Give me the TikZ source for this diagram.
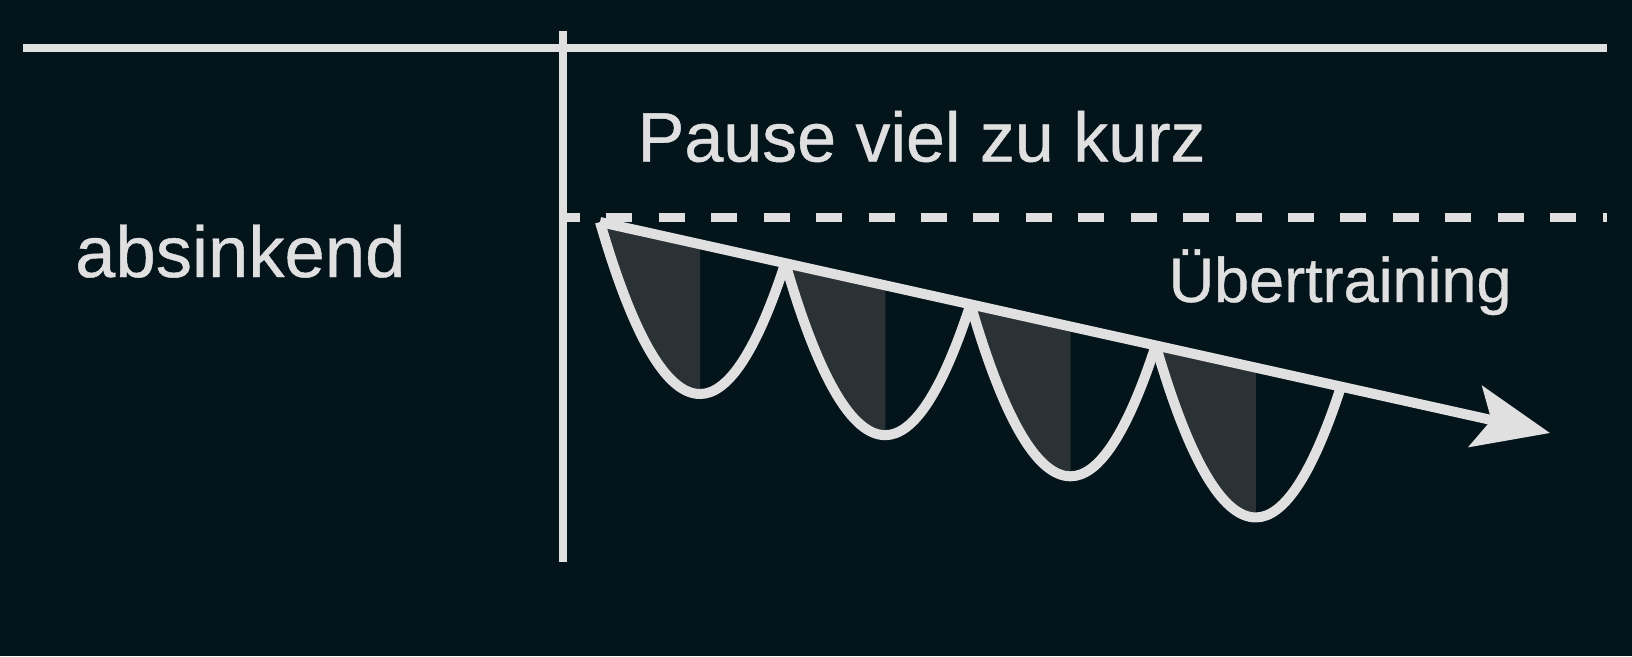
\documentclass[tikz,border=0pt]{standalone}
\usepackage{fontspec}
\setmainfont[FakeBold=0.6,AutoFakeBold=0.6]{Liberation Sans}
\usepackage{xcolor}
\definecolor{bgdark}{HTML}{03141B}
\definecolor{chalk}{HTML}{E0E0E0}
\definecolor{bumpgray}{HTML}{2B3235}
\usepackage{tikz}
\usetikzlibrary{arrows.meta,calc}

\begin{document}
\begin{tikzpicture}[x=0.01cm, y=-0.01cm,
    axisline/.style={draw=chalk, line width=0.08cm},
    textlabel/.style={text=chalk, inner sep=0pt, anchor=base west},
    bump/.style={draw=chalk, line width=0.1cm, line join=round},
    bumpfill/.style={fill=bumpgray}]
    \fill[bgdark] (0,0) rectangle (1632,656);
    \coordinate (topL) at (23,48);
    \coordinate (topR) at (1607,48);
    \coordinate (vTop) at (563,31);
    \coordinate (vBot) at (563,562);
    \coordinate (dashL) at (563,217.5);
    \coordinate (dashR) at (1607,217.5);
    \coordinate (start) at (600,222);
    \coordinate (tip) at (1550,433);
    \foreach \i in {0,...,4}
        \coordinate (p\i) at ($(start)!{0.195*\i}!(tip)$);
    \foreach \i in {0,...,3}
        \coordinate (b\i) at ($(p\i)+(100,172)$);
    \foreach \i in {0,...,3}
        \fill[bumpfill] (p\i) .. controls +(33.3,114.7) and +(-33.3,0) .. (b\i) -- ++(0,-149.8) -- cycle;
    \draw[axisline] (topL) -- (topR);
    \draw[axisline] (vTop) -- (vBot);
    \draw[axisline, line width=0.09cm, dash pattern=on 0.26cm off 0.264cm, dash phase=0.09cm] (dashL) -- (dashR);
    \foreach \i [count=\j from 1] in {0,...,3}
        \draw[bump] (p\i) .. controls +(33.3,114.7) and +(-33.3,0) .. (b\i) .. controls +(28.4,0) and +(-28.4,87.2) .. (p\j);
    \draw[bump, -{Stealth[length=7.6mm, width=6.2mm, inset=1.6mm]}] (start) -- (tip);
    \node[textlabel, font=\fontsize{19.9pt}{24pt}\selectfont\bfseries] (pause) at (637,161.5) {Pause viel zu kurz};
    \node[textlabel, font=\fontsize{20.6pt}{24pt}\selectfont\bfseries] (absinkend) at (74.5,277) {absinkend};
    \node[textlabel, font=\fontsize{17.9pt}{22pt}\selectfont\bfseries] (uebertraining) at (1168,302) {Übertraining};
\end{tikzpicture}
\end{document}
